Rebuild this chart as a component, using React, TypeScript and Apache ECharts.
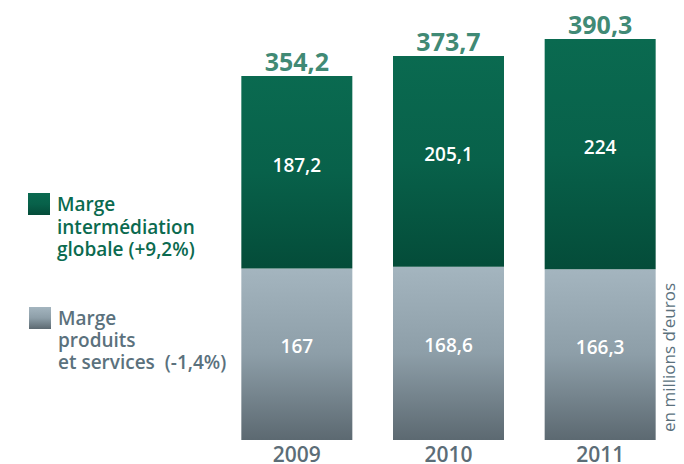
import React, { useEffect, useRef } from "react";
import * as echarts from "echarts";

const categories = ["2009", "2010", "2011"];
const produitsServices = [167, 168.6, 166.3];
const intermediation = [187.2, 205.1, 224];
const totals = [354.2, 373.7, 390.3];
const legendGreen = ["Marge", "intermédiation", "globale (+9,2%)"];
const legendGray = ["Marge", "produits", "et services  (-1,4%)"];
const unitLabel = "en millions d’euros";

const FONT = "'Open Sans', 'Noto Sans', sans-serif";
const GREEN = "#0b6a4f";
const GRAYTXT = "#5b717d";

const fmt = (v: number) => String(v).replace(".", ",");

const greenGrad = () =>
  new echarts.graphic.LinearGradient(0, 0, 0, 1, [
    { offset: 0, color: "#0a6a50" },
    { offset: 0.5, color: "#08614a" },
    { offset: 1, color: "#044c39" },
  ]);
const grayGrad = () =>
  new echarts.graphic.LinearGradient(0, 0, 0, 1, [
    { offset: 0, color: "#a4b5bf" },
    { offset: 0.5, color: "#8d9ea8" },
    { offset: 1, color: "#5c6971" },
  ]);

const legendLines = (lines: string[], x: number, y0: number, step: number, fill: string) =>
  lines.map((t, i) => ({
    type: "text",
    x,
    y: y0 + i * step,
    style: {
      text: t,
      fill,
      font: `600 19px ${FONT}`,
      lineHeight: 19,
      verticalAlign: "middle",
      align: "left",
    },
  }));

export default function App() {
  const ref = useRef<HTMLDivElement>(null);
  useEffect(() => {
    if (!ref.current) return;
    const chart = echarts.init(ref.current, null, { renderer: "svg" });
    chart.setOption({
      animation: false,
      grid: { left: 221, top: 29, width: 455, height: 411 },
      xAxis: {
        type: "category",
        data: categories,
        axisLine: { show: false },
        axisTick: { show: false },
        axisLabel: {
          color: "#5c6d77",
          fontFamily: FONT,
          fontSize: 21,
          fontWeight: 600,
          lineHeight: 19,
          margin: 4,
        },
      },
      yAxis: { type: "value", min: 0, max: 400, show: false, splitLine: { show: false } },
      series: [
        {
          name: "Marge produits et services",
          type: "bar",
          stack: "t",
          barWidth: 111,
          data: produitsServices,
          itemStyle: { color: grayGrad() },
          label: {
            show: true,
            position: "inside",
            offset: [0, -8],
            color: "#ffffff",
            fontFamily: FONT,
            fontSize: 19,
            fontWeight: 600,
            formatter: (p: any) => fmt(p.value),
          },
        },
        {
          name: "Marge intermédiation globale",
          type: "bar",
          stack: "t",
          barWidth: 111,
          data: intermediation,
          itemStyle: { color: greenGrad() },
          label: {
            show: true,
            position: "inside",
            offset: [0, -7],
            color: "#ffffff",
            fontFamily: FONT,
            fontSize: 19,
            fontWeight: 600,
            formatter: (p: any) => fmt(p.value),
          },
        },
        {
          name: "Total",
          type: "scatter",
          data: totals,
          symbolSize: 1,
          itemStyle: { color: "rgba(0,0,0,0)" },
          label: {
            show: true,
            position: "top",
            distance: 2,
            color: GREEN,
            fontFamily: FONT,
            fontSize: 25,
            fontWeight: 700,
            formatter: (p: any) => fmt(p.value),
          },
        },
      ],
      graphic: [
        {
          type: "rect",
          shape: { x: 28, y: 193, width: 22, height: 22 },
          style: { fill: greenGrad() },
        },
        ...legendLines(legendGreen, 57, 204, 22.5, GREEN),
        {
          type: "rect",
          shape: { x: 29, y: 307, width: 22, height: 22 },
          style: { fill: grayGrad() },
        },
        ...legendLines(legendGray, 58, 318, 22, GRAYTXT),
        {
          type: "text",
          x: 668,
          y: 357.5,
          rotation: Math.PI / 2,
          style: {
            text: unitLabel,
            fill: GRAYTXT,
            font: `400 17px ${FONT}`,
            align: "center",
            verticalAlign: "middle",
          },
        },
      ],
    });
    return () => chart.dispose();
  }, []);
  return (
    <div
      ref={ref}
      style={{ position: "fixed", left: 0, top: 0, width: 684, height: 464, background: "#ffffff" }}
    />
  );
}
